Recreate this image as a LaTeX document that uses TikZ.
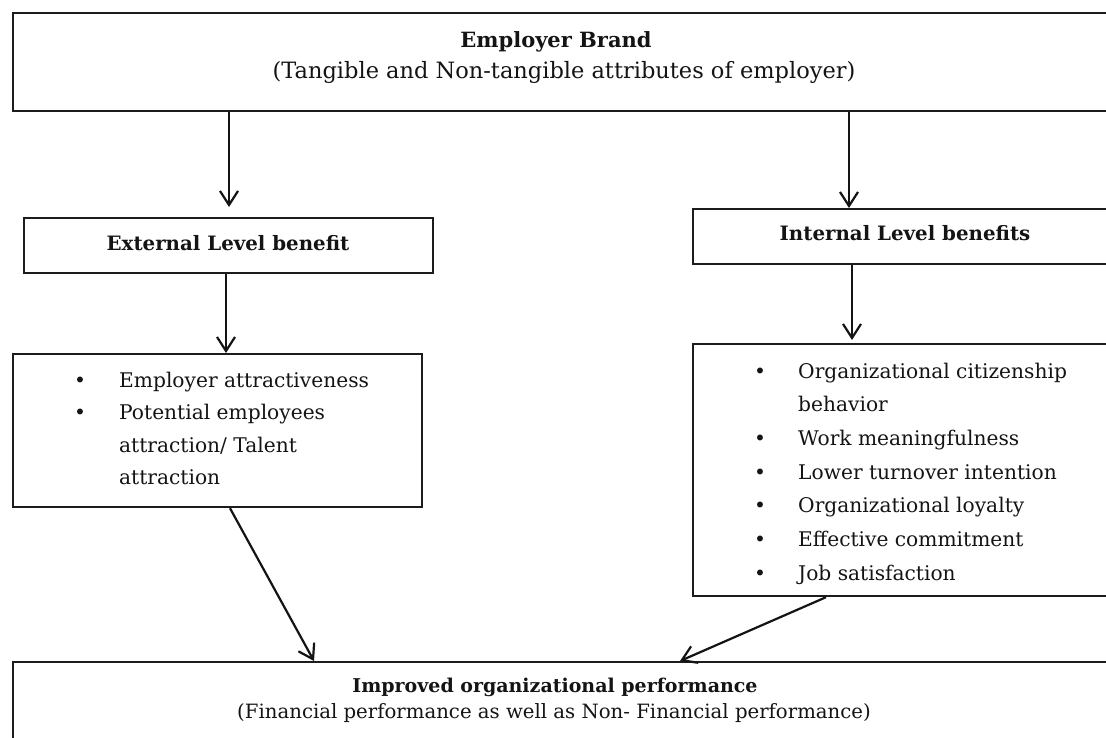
\documentclass[tikz,border=0pt]{standalone}
\usepackage{fontspec}
\setmainfont{DejaVu Serif}
\usetikzlibrary{arrows.meta}
\definecolor{ink}{HTML}{141414}
\definecolor{frame}{HTML}{1C1C1C}
\newcommand{\bodyfont}{\fontsize{20.2}{24}\selectfont}
\newcommand{\headfont}{\fontsize{19.8}{24}\selectfont\bfseries}
\tikzset{
  box/.style={draw=frame, line width=2.2pt, anchor=north west, inner sep=0pt},
  arr/.style={draw=ink, line width=2.2pt,
    -{Straight Barb[length=14pt,width=18pt,line width=2.2pt]}},
  txt/.style={anchor=base, inner sep=0pt, text=ink, font=\bodyfont},
  head/.style={anchor=base, inner sep=0pt, text=ink, font=\headfont},
  item/.style={anchor=base west, inner sep=0pt, text=ink, font=\bodyfont},
}
\begin{document}
\begin{tikzpicture}[x=1pt,y=-1pt]
\useasboundingbox (0,0) rectangle (1106,737);
\clip (0,0) rectangle (1106,737);
\fill[white] (0,0) rectangle (1106,737);

% boxes
\node[box, minimum width=1106pt, minimum height=98pt]  (brand)   at (12,12)  {};
\node[box, minimum width=409pt,  minimum height=55pt]  (ext)     at (23,217) {};
\node[box, minimum width=409pt,  minimum height=153pt] (extlist) at (12,353) {};
\node[box, minimum width=426pt,  minimum height=55pt]  (intl)    at (692,208) {};
\node[box, minimum width=426pt,  minimum height=252pt] (intlist) at (692,343) {};
\node[box, minimum width=1106pt, minimum height=120pt] (perf)    at (12,661) {};

% titles
\node[head, font=\fontsize{21}{24}\selectfont\bfseries] (brandA) at (556,47) {Employer Brand};
\node[txt,  font=\fontsize{22.5}{26}\selectfont] (brandB) at (564,78) {(Tangible and Non-tangible attributes of employer)};
\node[head] (extA)   at (228,250) {External Level benefit};
\node[head] (intA)   at (905,240) {Internal Level benefits};
\node[head, font=\fontsize{19}{24}\selectfont\bfseries] (perfA) at (555,692) {Improved organizational performance};
\node[txt,  font=\fontsize{19.7}{24}\selectfont] (perfB) at (554,718) {(Financial performance as well as Non- Financial performance)};

% external benefits list
\node[item] (eb1) at (74,387)   {\textbullet};
\node[item] (et1) at (119,387)  {Employer attractiveness};
\node[item] (eb2) at (74,419.5) {\textbullet};
\node[item] (et2) at (119,419.5){Potential employees};
\node[item] (et3) at (119,452)  {attraction/ Talent};
\node[item] (et4) at (119,484.5){attraction};

% internal benefits list
\node[item] (ib1) at (754,378)   {\textbullet};
\node[item] (it1) at (798,378)   {Organizational citizenship};
\node[item] (it2) at (798,411.7) {behavior};
\node[item] (ib3) at (754,445.4) {\textbullet};
\node[item] (it3) at (798,445.4) {Work meaningfulness};
\node[item] (ib4) at (754,479)   {\textbullet};
\node[item] (it4) at (798,479)   {Lower turnover intention};
\node[item] (ib5) at (754,512.8) {\textbullet};
\node[item] (it5) at (798,512.8) {Organizational loyalty};
\node[item] (ib6) at (754,546.5) {\textbullet};
\node[item] (it6) at (798,546.5) {Effective commitment};
\node[item] (ib7) at (754,580.2) {\textbullet};
\node[item] (it7) at (798,580.2) {Job satisfaction};

% connector positions
\coordinate (xa1) at (229,0);
\coordinate (xa2) at (226,0);
\coordinate (xb1) at (849,0);
\coordinate (xb2) at (852,0);
\coordinate (xc1) at (230,0);
\coordinate (xc1e) at (314,0);
\coordinate (xc2) at (826,0);
\coordinate (xc2e) at (680,0);

% connectors
\draw[arr, shorten >=10pt] (brand.south -| xa1) -- (ext.north -| xa1);
\draw[arr] (ext.south -| xa2) -- (extlist.north -| xa2);
\draw[arr] (brand.south -| xb1) -- (intl.north -| xb1);
\draw[arr, shorten >=3pt] (intl.south -| xb2) -- (intlist.north -| xb2);
\draw[arr] (extlist.south -| xc1) -- (perf.north -| xc1e);
\draw[arr] (intlist.south -| xc2) -- (perf.north -| xc2e);
\end{tikzpicture}
\end{document}
